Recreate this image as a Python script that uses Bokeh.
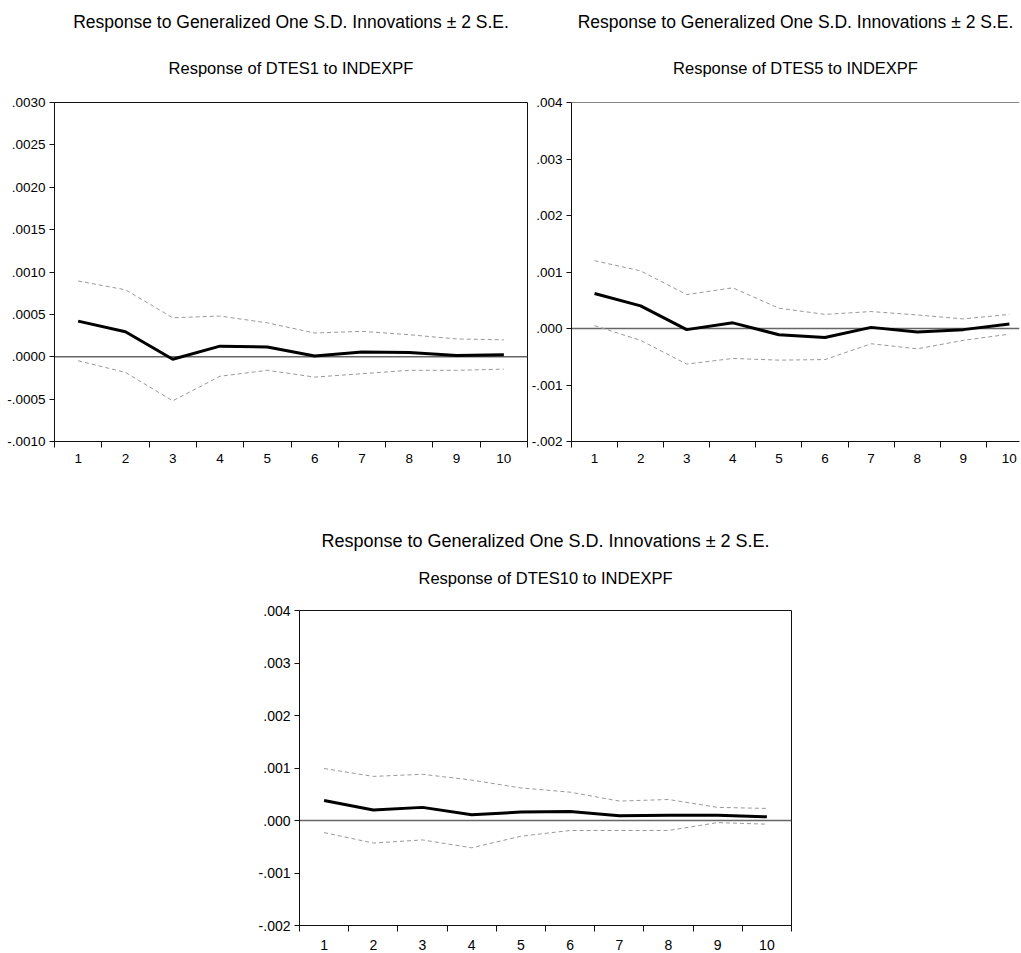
from bokeh.plotting import figure
from bokeh.models import FixedTicker, CustomJSTickFormatter, Span, Title, Spacer, LinearAxis
from bokeh.layouts import row, column
from bokeh.embed import file_html
from bokeh.resources import INLINE

# ---------------- data ----------------
periods = [1, 2, 3, 4, 5, 6, 7, 8, 9, 10]

main_title = "Response to Generalized One S.D. Innovations \u00b1 2 S.E."
sub_title_1 = "Response of DTES1 to INDEXPF"
sub_title_2 = "Response of DTES5 to INDEXPF"
sub_title_3 = "Response of DTES10 to INDEXPF"

resp_1 = [0.00042, 0.000295, -0.00003, 0.000125, 0.000115, 0.00001, 0.000055, 0.00005, 0.000016, 0.000024]
upper_1 = [0.000894, 0.00079, 0.00046, 0.00048, 0.0004, 0.00028, 0.0003, 0.00026, 0.00021, 0.0002]
lower_1 = [-0.000047, -0.000185, -0.00052, -0.00023, -0.00016, -0.00024, -0.0002, -0.00016, -0.00016, -0.000146]

resp_2 = [0.00062, 0.0004, -0.00002, 0.0001, -0.00011, -0.00016, 0.00002, -0.00006, -0.00002, 0.00008]
upper_2 = [0.0012, 0.00102, 0.0006, 0.00072, 0.00036, 0.00025, 0.0003, 0.00024, 0.00017, 0.00025]
lower_2 = [0.00005, -0.00021, -0.00063, -0.00053, -0.00056, -0.00055, -0.00027, -0.00036, -0.00021, -0.0001]

resp_3 = [0.00038, 0.0002, 0.00025, 0.00011, 0.00016, 0.00017, 0.00009, 0.0001, 0.0001, 0.00007]
upper_3 = [0.00099, 0.00084, 0.00088, 0.00077, 0.00062, 0.00054, 0.00037, 0.0004, 0.00025, 0.00023]
lower_3 = [-0.00023, -0.00043, -0.00037, -0.00052, -0.0003, -0.00019, -0.00019, -0.00019, -0.00004, -0.00007]

yticks_1 = [-0.001, -0.0005, 0.0, 0.0005, 0.001, 0.0015, 0.002, 0.0025, 0.003]
yticks_2 = [-0.002, -0.001, 0.0, 0.001, 0.002, 0.003, 0.004]
yticks_3 = [-0.002, -0.001, 0.0, 0.001, 0.002, 0.003, 0.004]

FONT = "Liberation Sans"


def make_panel(resp, upper, lower, yticks, decimals, sub, width, height,
               bl, br, bt, bb, x_end, gap, sub_standoff, main_standoff,
               outline=True, title_size="17.5px", sub_size="16.5px",
               tick_size="13.5px", xlabel_standoff=6):
    p = figure(width=width, height=height, output_backend="svg",
               toolbar_location=None, x_range=(0.5, x_end),
               y_range=(yticks[0], yticks[-1]),
               min_border_left=bl, min_border_right=br,
               min_border_top=bt, min_border_bottom=bb,
               background_fill_color="white", border_fill_color="white")
    p.xgrid.visible = False
    p.ygrid.visible = False
    if outline:
        p.outline_line_color = "#111111"
        p.outline_line_width = 1
    else:
        p.outline_line_color = None
        p.add_layout(Span(location=yticks[-1], dimension="width",
                          line_color="#111111", line_width=1))

    # y axis
    ya = p.yaxis[0]
    ya.ticker = FixedTicker(ticks=yticks, minor_ticks=[])
    ya.formatter = CustomJSTickFormatter(args=dict(d=decimals),
                                         code="return tick.toFixed(d).replace('0.', '.');")
    ya.major_tick_out = 5
    ya.major_tick_in = 0
    ya.minor_tick_out = 0
    ya.minor_tick_in = 0
    ya.major_label_standoff = 4
    ya.axis_line_color = "#111111"
    ya.major_tick_line_color = "#111111"
    ya.major_label_text_font = FONT
    ya.major_label_text_font_size = tick_size
    ya.major_label_text_color = "black"

    # x axis: labels at periods, ticks between periods
    xa = p.xaxis[0]
    xa.ticker = FixedTicker(ticks=periods,
                            minor_ticks=[v - 0.5 for v in periods] + [periods[-1] + 0.5])
    xa.major_tick_out = 0
    xa.major_tick_in = 0
    xa.minor_tick_out = 6
    xa.minor_tick_in = 0
    xa.minor_tick_line_color = "#111111"
    xa.major_label_standoff = xlabel_standoff
    xa.axis_line_color = "#111111"
    xa.major_label_text_font = FONT
    xa.major_label_text_font_size = tick_size
    xa.major_label_text_color = "black"

    zero = Span(location=0, dimension="width", line_color="#666666",
                line_width=1.5, level="underlay")
    p.add_layout(zero)

    p.line(periods, upper, line_color="#999999", line_width=1, line_dash="4 3")
    p.line(periods, lower, line_color="#999999", line_width=1, line_dash="4 3")
    p.line(periods, resp, line_color="black", line_width=3)

    # invisible top axis used only as a gap between the frame and the sub-title
    if gap > 0:
        gap_axis = LinearAxis(ticker=FixedTicker(ticks=[periods[0]], minor_ticks=[]),
                              formatter=CustomJSTickFormatter(code="return '';"),
                              axis_line_color=None,
                              major_tick_out=gap, major_tick_in=0, minor_tick_out=0,
                              minor_tick_in=0, major_label_standoff=0,
                              major_label_text_font_size="1px",
                              major_tick_line_color=None, minor_tick_line_color=None)
        p.add_layout(gap_axis, "above")

    p.add_layout(Title(text=sub, align="center", text_font=FONT,
                       text_font_size=sub_size, text_font_style="normal",
                       standoff=sub_standoff, text_color="black"), "above")
    p.add_layout(Title(text=main_title, align="center", text_font=FONT,
                       text_font_size=title_size, text_font_style="normal",
                       standoff=main_standoff, text_color="black"), "above")
    return p


p1 = make_panel(resp_1, upper_1, lower_1, yticks_1, 4, sub_title_1,
                528, 490, 54, 1, 102, 49, 10.5, 0, 51, 0)
p2 = make_panel(resp_2, upper_2, lower_2, yticks_2, 3, sub_title_2,
                492, 490, 39, 1, 102, 49, 10.22, 0, 51, 0, outline=False)
p3 = make_panel(resp_3, upper_3, lower_3, yticks_3, 3, sub_title_3,
                537, 462, 38, 1, 120, 20, 10.5, 22, 4, 28,
                title_size="18px", sub_size="16.5px", tick_size="14px",
                xlabel_standoff=8)

layout = column(row(p1, p2), row(Spacer(width=255, height=462), p3))

open("out.html", "w").write(file_html(layout, INLINE))
